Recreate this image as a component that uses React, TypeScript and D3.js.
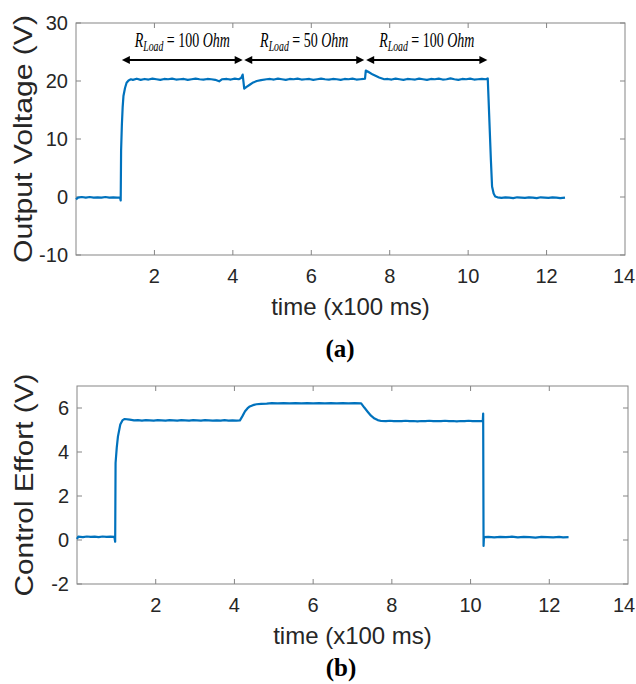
import React from "react";
import * as d3 from "d3";

// ---------- DATA ----------
const xTicks = [2, 4, 6, 8, 10, 12];
const xTickLabels = [2, 4, 6, 8, 10, 12, 14];
const voltageTicks = [-10, 0, 10, 20, 30];
const effortTicks = [-2, 0, 2, 4, 6];

// Output voltage (V) vs time (x100 ms)
const outputVoltage: [number, number][] = [
  [0.0, -0.4], [0.05, -0.1], [0.15, 0.0], [0.25, -0.1], [0.35, 0.0], [0.45, -0.1], [0.55, -0.05],
  [0.65, -0.1], [0.75, 0.0], [0.85, -0.1], [0.95, -0.05], [1.05, -0.1], [1.12, -0.05], [1.14, -0.6],
  [1.15, 8.0], [1.17, 12.5], [1.19, 15.5], [1.21, 17.4], [1.25, 18.8], [1.29, 19.7], [1.34, 20.1],
  [1.4, 20.3], [1.45, 20.2], [1.55, 20.4], [1.65, 20.2], [1.75, 20.35], [1.85, 20.25], [1.95, 20.4],
  [2.05, 20.3], [2.15, 20.2], [2.25, 20.35], [2.35, 20.3], [2.45, 20.4], [2.55, 20.25], [2.65, 20.3],
  [2.75, 20.35], [2.85, 20.2], [2.95, 20.3], [3.05, 20.4], [3.15, 20.3], [3.25, 20.25], [3.35, 20.35],
  [3.45, 20.3], [3.55, 20.2], [3.65, 19.95], [3.72, 20.3], [3.85, 20.35], [3.95, 20.25], [4.05, 20.4],
  [4.15, 20.3], [4.21, 20.5], [4.25, 21.1], [4.29, 18.7], [4.35, 19.0], [4.44, 19.4], [4.52, 19.75],
  [4.61, 20.0], [4.72, 20.15], [4.86, 20.3], [4.95, 20.35], [5.05, 20.25], [5.15, 20.4], [5.25, 20.3],
  [5.35, 20.2], [5.45, 20.35], [5.55, 20.3], [5.65, 20.4], [5.75, 20.25], [5.85, 20.3], [5.95, 20.35],
  [6.05, 20.2], [6.15, 20.3], [6.25, 20.4], [6.35, 20.3], [6.45, 20.25], [6.55, 20.35], [6.65, 20.3],
  [6.75, 20.2], [6.85, 20.35], [6.95, 20.3], [7.05, 20.4], [7.15, 20.25], [7.25, 20.3], [7.33, 20.35],
  [7.37, 20.4], [7.39, 21.8], [7.45, 21.6], [7.57, 21.1], [7.73, 20.6], [7.86, 20.3], [7.95, 20.35],
  [8.05, 20.25], [8.15, 20.4], [8.25, 20.3], [8.35, 20.2], [8.45, 20.35], [8.55, 20.3], [8.65, 20.25],
  [8.75, 20.4], [8.85, 20.3], [8.95, 20.2], [9.05, 20.35], [9.15, 20.3], [9.25, 20.4], [9.35, 20.25],
  [9.45, 20.3], [9.55, 20.45], [9.65, 20.3], [9.75, 20.2], [9.85, 20.35], [9.95, 20.3], [10.05, 20.4],
  [10.15, 20.25], [10.25, 20.3], [10.35, 20.35], [10.45, 20.3], [10.5, 20.45], [10.52, 17.0],
  [10.58, 6.4], [10.61, 1.8], [10.65, 0.6], [10.69, 0.1], [10.75, -0.05], [10.85, -0.15], [10.95, -0.05],
  [11.05, -0.1], [11.15, -0.2], [11.25, -0.05], [11.35, -0.1], [11.45, -0.15], [11.55, -0.05],
  [11.65, -0.1], [11.75, -0.2], [11.85, -0.05], [11.95, -0.1], [12.05, -0.15], [12.15, -0.05],
  [12.25, -0.1], [12.35, -0.2], [12.47, -0.1],
];

// Control effort (V) vs time (x100 ms)
const controlEffort: [number, number][] = [
  [0.0, 0.05], [0.03, 0.15], [0.15, 0.13], [0.25, 0.16], [0.35, 0.14], [0.45, 0.15], [0.55, 0.13],
  [0.65, 0.16], [0.75, 0.14], [0.85, 0.15], [0.95, 0.14], [0.97, -0.08], [0.98, 3.5], [1.01, 4.2],
  [1.04, 4.7], [1.1, 5.25], [1.16, 5.45], [1.21, 5.5], [1.34, 5.47], [1.45, 5.44], [1.55, 5.45],
  [1.65, 5.43], [1.75, 5.45], [1.85, 5.44], [1.95, 5.43], [2.05, 5.45], [2.15, 5.44], [2.25, 5.43],
  [2.35, 5.45], [2.45, 5.44], [2.55, 5.43], [2.65, 5.45], [2.75, 5.44], [2.85, 5.43], [2.95, 5.45],
  [3.05, 5.44], [3.15, 5.43], [3.25, 5.45], [3.35, 5.44], [3.45, 5.43], [3.55, 5.44], [3.65, 5.43],
  [3.75, 5.45], [3.85, 5.43], [3.95, 5.44], [4.05, 5.43], [4.14, 5.44], [4.2, 5.62], [4.27, 5.85],
  [4.33, 5.98], [4.39, 6.07], [4.47, 6.13], [4.56, 6.17], [4.68, 6.19], [4.82, 6.2], [4.95, 6.22],
  [5.1, 6.21], [5.25, 6.22], [5.4, 6.21], [5.55, 6.22], [5.7, 6.21], [5.85, 6.22], [6.0, 6.21],
  [6.15, 6.22], [6.3, 6.21], [6.45, 6.22], [6.6, 6.21], [6.75, 6.22], [6.9, 6.21], [7.05, 6.22],
  [7.22, 6.21], [7.3, 6.02], [7.39, 5.82], [7.47, 5.65], [7.56, 5.52], [7.64, 5.45], [7.73, 5.41],
  [7.85, 5.4], [7.95, 5.42], [8.05, 5.4], [8.15, 5.41], [8.25, 5.4], [8.35, 5.42], [8.45, 5.4],
  [8.55, 5.41], [8.65, 5.39], [8.75, 5.41], [8.85, 5.4], [8.95, 5.42], [9.05, 5.4], [9.15, 5.41],
  [9.25, 5.4], [9.35, 5.42], [9.45, 5.4], [9.55, 5.41], [9.65, 5.39], [9.75, 5.41], [9.85, 5.4],
  [9.95, 5.42], [10.05, 5.4], [10.15, 5.41], [10.25, 5.4], [10.31, 5.4], [10.32, 5.75], [10.33, -0.27],
  [10.34, 0.13], [10.45, 0.14], [10.6, 0.12], [10.75, 0.14], [10.9, 0.13], [11.05, 0.15], [11.2, 0.12],
  [11.35, 0.14], [11.5, 0.13], [11.65, 0.11], [11.8, 0.14], [11.95, 0.13], [12.1, 0.12], [12.25, 0.14],
  [12.35, 0.12], [12.49, 0.13],
];

// Load intervals annotated above the voltage trace
const loadStarts = [1.17, 4.29, 7.4];
const loadEnds = [4.25, 7.35, 10.49];
const loadValues = ["100", "50", "100"];

// ---------- STYLE ----------
const LINE = "#0072BD";
const AXIS = "#858585";
const TEXT = "#262626";
const SANS = "Liberation Sans, Arial, sans-serif";

type PanelProps = {
  data: [number, number][];
  yDomain: [number, number];
  yTicks: number[];
  left: number;
  right: number;
  top: number;
  bottom: number;
  ylabel: string;
  ylabelX: number;
  ylabelLen: number;
  xlabelY: number;
  children?: (x: d3.ScaleLinear<number, number>, y: d3.ScaleLinear<number, number>) => React.ReactNode;
};

function Panel(p: PanelProps) {
  const x = d3.scaleLinear().domain([0, 14]).range([p.left, p.right]);
  const y = d3.scaleLinear().domain(p.yDomain).range([p.bottom, p.top]);
  const line = d3
    .line<[number, number]>()
    .x((d) => x(d[0]))
    .y((d) => y(d[1]));
  const tl = 5;
  return (
    <g>
      <rect
        x={p.left}
        y={p.top}
        width={p.right - p.left}
        height={p.bottom - p.top}
        fill="none"
        stroke={AXIS}
        strokeWidth={1}
      />
      {xTicks.map((t) => (
        <g key={"xt" + t}>
          <line x1={x(t)} x2={x(t)} y1={p.bottom} y2={p.bottom - tl} stroke={AXIS} />
          <line x1={x(t)} x2={x(t)} y1={p.top} y2={p.top + tl} stroke={AXIS} />
        </g>
      ))}
      {p.yTicks.map((t) => (
        <g key={"yt" + t}>
          <line x1={p.left} x2={p.left + tl} y1={y(t)} y2={y(t)} stroke={AXIS} />
          <line x1={p.right} x2={p.right - tl} y1={y(t)} y2={y(t)} stroke={AXIS} />
          <text
            x={p.left - 8}
            y={y(t) + 7}
            textAnchor="end"
            fontFamily={SANS}
            fontSize={20}
            fill={TEXT}
          >
            {t}
          </text>
        </g>
      ))}
      {xTickLabels.map((t) => {
        const xt = Math.min(x(t), 624);
        return (
          <text
            key={"xl" + t}
            x={xt}
            y={p.bottom + 28}
            textAnchor="middle"
            fontFamily={SANS}
            fontSize={20}
            fill={TEXT}
          >
            {t}
          </text>
        );
      })}
      <path d={line(p.data) || ""} fill="none" stroke={LINE} strokeWidth={2.2} strokeLinejoin="round" />
      <text
        x={(p.left + p.right) / 2}
        y={p.xlabelY}
        textAnchor="middle"
        fontFamily={SANS}
        fontSize={24}
        fill={TEXT}
      >
        time (x100 ms)
      </text>
      <text
        transform={`translate(${p.ylabelX},${(p.top + p.bottom) / 2}) rotate(-90)`}
        textAnchor="middle"
        fontFamily={SANS}
        fontSize={25}
        fill={TEXT}
        textLength={p.ylabelLen}
        lengthAdjust="spacingAndGlyphs"
      >
        {p.ylabel}
      </text>
      {p.children && p.children(x, y)}
    </g>
  );
}

function LoadAnnotations(x: d3.ScaleLinear<number, number>) {
  const ay = 60;
  const hl = 8;
  const hw = 4;
  return (
    <g>
      {loadStarts.map((s, i) => {
        const x1 = x(s);
        const x2 = x(loadEnds[i]);
        const cx = (x1 + x2) / 2;
        return (
          <g key={"ann" + i}>
            <line x1={x1 + hl - 1} x2={x2 - hl + 1} y1={ay} y2={ay} stroke="#000" strokeWidth={2} />
            <polygon points={`${x1},${ay} ${x1 + hl},${ay - hw} ${x1 + hl},${ay + hw}`} fill="#000" />
            <polygon points={`${x2},${ay} ${x2 - hl},${ay - hw} ${x2 - hl},${ay + hw}`} fill="#000" />
            <g transform={`translate(${cx},47) scale(0.7,1)`}>
              <text
                x={0}
                y={0}
                textAnchor="middle"
                fontFamily="Liberation Serif, serif"
                fontSize={20}
                fill="#000"
              >
                <tspan fontStyle="italic">R</tspan>
                <tspan fontStyle="italic" fontSize={14} dy={4}>
                  Load
                </tspan>
                <tspan dy={-4}>{` = ${loadValues[i]} `}</tspan>
                <tspan fontStyle="italic">Ohm</tspan>
              </text>
            </g>
          </g>
        );
      })}
    </g>
  );
}

export default function App() {
  return (
    <svg
      width={636}
      height={684}
      style={{ position: "absolute", left: 0, top: 0, background: "#fff" }}
    >
      <rect width={636} height={684} fill="#fff" />
      <Panel
        data={outputVoltage}
        yDomain={[-10, 30]}
        yTicks={voltageTicks}
        left={76}
        right={625}
        top={23}
        bottom={255}
        ylabel="Output Voltage (V)"
        ylabelX={32}
        ylabelLen={248}
        xlabelY={315}
      >
        {(x) => LoadAnnotations(x)}
      </Panel>
      <text x={340} y={357} textAnchor="middle" fontFamily="Liberation Serif, serif" fontWeight="bold" fontSize={25} fill="#000">
        (a)
      </text>
      <Panel
        data={controlEffort}
        yDomain={[-2, 7]}
        yTicks={effortTicks}
        left={77}
        right={628}
        top={386}
        bottom={584}
        ylabel="Control Effort (V)"
        ylabelX={33}
        ylabelLen={223}
        xlabelY={644}
      />
      <text x={341} y={676} textAnchor="middle" fontFamily="Liberation Serif, serif" fontWeight="bold" fontSize={25} fill="#000">
        (b)
      </text>
    </svg>
  );
}
